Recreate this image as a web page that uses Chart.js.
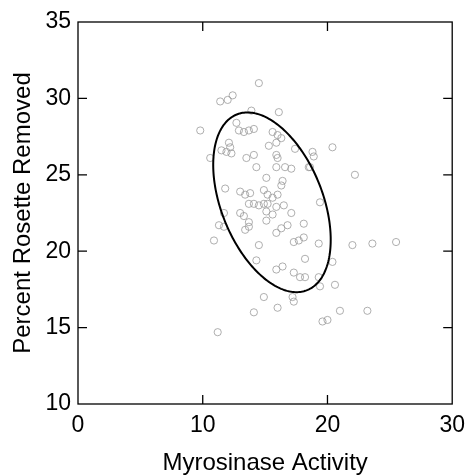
<!DOCTYPE html>
<html><head><meta charset="utf-8">
<script src="https://cdn.jsdelivr.net/npm/chart.js@4/dist/chart.umd.min.js"></script>
<style>html,body{margin:0;padding:0;background:#fff}#wrap{width:473px;height:475px}</style>
</head><body><div id="wrap"><canvas id="c" width="473" height="475"></canvas></div>
<script>
const activity = [14.5,11.4,12.0,12.4,9.8,13.9,16.1,12.7,12.9,13.3,13.7,14.1,15.6,16.0,16.3,12.1,12.2,11.5,11.9,12.3,13.5,14.1,15.3,15.9,15.9,16.0,17.4,18.8,15.9,16.6,17.1,14.3,10.6,18.6,15.1,16.4,16.3,11.8,13.0,13.4,13.8,14.9,15.2,15.6,16.0,13.7,14.1,14.5,14.9,15.2,15.9,16.5,13.0,13.3,15.1,15.6,17.1,13.7,13.7,15.1,19.4,11.7,11.3,11.7,13.4,15.9,16.3,16.8,18.1,10.9,17.3,17.7,18.1,19.3,14.5,14.3,18.2,15.9,16.4,17.3,17.8,18.2,19.3,19.4,14.9,17.2,17.3,16.0,14.1,19.6,11.2,20.4,22.2,22.0,23.6,25.5,20.4,20.6,21.0,23.2,20.0,18.5,18.9];
const removed  = [31.0,29.8,29.9,30.2,27.9,29.2,29.1,28.4,27.9,27.8,27.9,28.0,27.8,27.6,27.4,27.1,26.8,26.6,26.5,26.4,26.1,26.3,26.9,27.1,26.3,26.1,26.7,26.5,25.5,25.5,25.4,25.5,26.1,25.5,24.8,24.6,24.3,24.1,23.9,23.7,23.8,24.0,23.7,23.5,23.7,23.1,23.1,23.0,23.1,23.1,22.9,23.0,22.5,22.3,22.6,22.4,22.5,21.9,21.6,22.0,23.2,22.5,21.7,21.6,21.4,21.2,21.5,21.7,21.8,20.7,20.6,20.7,20.9,20.5,20.4,19.4,19.5,18.8,19.0,18.6,18.3,18.3,18.3,17.7,17.0,17.0,16.7,16.3,16.0,15.4,14.7,26.8,25.0,20.4,20.5,20.6,19.3,17.8,16.1,16.1,15.5,25.5,26.2];
const xTicks = [0,10,20,30];
const yTicks = [10,15,20,25,30,35];
const ellipseCenter = [15.55, 23.2];
const ellipseSpread = [4.71, 5.88];
const ellipseCorr = -0.417;

const points = activity.map((a,i)=>({x:a, y:removed[i]}));
const FONT = "'Liberation Sans', Arial, sans-serif";

const framePlugin = {
  id:'frame',
  afterDatasetsDraw(chart){
    const {ctx, scales:{x,y}} = chart;
    const ca = chart.chartArea;
    ctx.save();
    ctx.strokeStyle='#000'; ctx.lineWidth=2;
    ctx.beginPath();
    const r2 = Math.sqrt(1-ellipseCorr*ellipseCorr);
    for(let k=0;k<=240;k++){
      const t = k/240*2*Math.PI;
      const dx = ellipseSpread[0]*Math.cos(t);
      const dy = ellipseSpread[1]*(ellipseCorr*Math.cos(t)+r2*Math.sin(t));
      const px = x.getPixelForValue(ellipseCenter[0]+dx);
      const py = y.getPixelForValue(ellipseCenter[1]+dy);
      if(k===0) ctx.moveTo(px,py); else ctx.lineTo(px,py);
    }
    ctx.closePath(); ctx.stroke();
    ctx.lineWidth=1.3;
    ctx.strokeRect(ca.left, ca.top, ca.right-ca.left, ca.bottom-ca.top);
    const tl = 9;
    ctx.beginPath();
    xTicks.slice(1,-1).forEach(v=>{
      const p = x.getPixelForValue(v);
      ctx.moveTo(p, ca.bottom); ctx.lineTo(p, ca.bottom-tl);
      ctx.moveTo(p, ca.top); ctx.lineTo(p, ca.top+tl);
    });
    yTicks.slice(1,-1).forEach(v=>{
      const p = y.getPixelForValue(v);
      ctx.moveTo(ca.left, p); ctx.lineTo(ca.left+tl, p);
      ctx.moveTo(ca.right, p); ctx.lineTo(ca.right-tl, p);
    });
    ctx.stroke();
    ctx.restore();
  }
};

new Chart(document.getElementById('c'), {
  type:'scatter',
  data:{datasets:[{
    data: points,
    pointRadius:3.6,
    pointBorderWidth:0.8,
    pointBackgroundColor:'rgba(0,0,0,0)',
    pointBorderColor:'#9a9a9a',
    showLine:false
  }]},
  options:{
    responsive:false, animation:false, devicePixelRatio:1,
    layout:{padding:{left:0,right:14,top:22,bottom:0}},
    plugins:{legend:{display:false}, tooltip:{enabled:false}},
    scales:{
      x:{
        type:'linear', min:0, max:30,
        afterBuildTicks(s){ s.ticks = xTicks.map(v=>({value:v})); },
        afterFit(s){ s.height = 71; },
        grid:{display:false, drawTicks:false}, border:{display:false},
        ticks:{color:'#000', padding:8, font:{family:FONT, size:23}},
        title:{display:true, text:'Myrosinase Activity', color:'#000', font:{family:FONT, size:24, lineHeight:1}, padding:{top:0,bottom:0}}
      },
      y:{
        type:'linear', min:10, max:35,
        afterBuildTicks(s){ s.ticks = yTicks.map(v=>({value:v})); },
        afterFit(s){ s.width = 78; },
        grid:{display:false, drawTicks:false}, border:{display:false},
        ticks:{color:'#000', padding:7, font:{family:FONT, size:23}},
        title:{display:true, text:'Percent Rosette Removed', color:'#000', font:{family:FONT, size:24, lineHeight:1}, padding:{top:11,bottom:0}}
      }
    }
  },
  plugins:[framePlugin]
});
</script>
</body></html>
